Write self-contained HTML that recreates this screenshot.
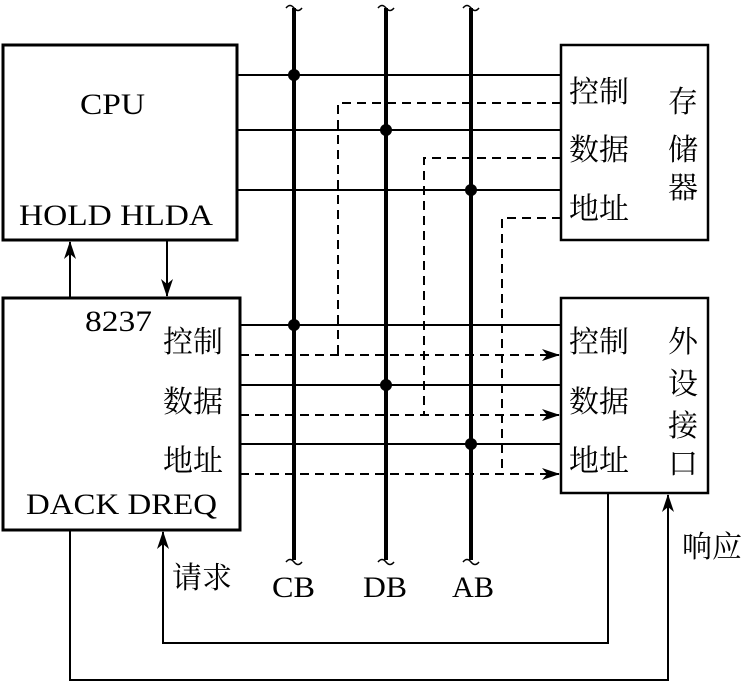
<!DOCTYPE html>
<html><head><meta charset="utf-8"><style>
body{margin:0;background:#fff}
svg text{font-family:"Liberation Serif","Noto Serif CJK SC",serif;fill:#000}
</style></head><body>
<svg width="744" height="684" viewBox="0 0 744 684" xmlns="http://www.w3.org/2000/svg">
<defs>
<marker id="a" markerWidth="18" markerHeight="12" refX="17" refY="6" orient="auto" markerUnits="userSpaceOnUse">
<path d="M0,0 L18,6 L0,12 L5,6 Z" fill="#000"/></marker>
</defs>
<g fill="none" stroke="#000">
<rect x="3" y="45" width="234" height="195" stroke-width="3"/>
<rect x="3" y="298" width="237" height="232" stroke-width="3"/>
<rect x="561" y="45" width="147" height="195" stroke-width="2.5"/>
<rect x="561" y="298" width="147" height="195" stroke-width="2.5"/>
<g stroke-width="4">
<line x1="294" y1="8" x2="294" y2="560"/>
<line x1="386" y1="8" x2="386" y2="560"/>
<line x1="471" y1="8" x2="471" y2="560"/>
</g>
<g stroke-width="1.5">
<path d="M286,8 q4,-5 8,0 t8,0"/><path d="M378,8 q4,-5 8,0 t8,0"/><path d="M463,8 q4,-5 8,0 t8,0"/>
<path d="M286,562 q4,-5 8,0 t8,0"/><path d="M378,562 q4,-5 8,0 t8,0"/><path d="M463,562 q4,-5 8,0 t8,0"/>
</g>
<g stroke-width="2">
<line x1="237" y1="75" x2="561" y2="75"/>
<line x1="237" y1="130" x2="561" y2="130"/>
<line x1="237" y1="190" x2="561" y2="190"/>
<line x1="240" y1="325" x2="561" y2="325"/>
<line x1="240" y1="385" x2="561" y2="385"/>
<line x1="240" y1="444" x2="561" y2="444"/>
</g>
<g stroke-width="2" stroke-dasharray="9,6">
<polyline points="561,103 338,103 338,355"/>
<polyline points="561,158 424,158 424,415"/>
<polyline points="561,218 502,218 502,474"/>
<line x1="240" y1="355" x2="559" y2="355" marker-end="url(#a)"/>
<line x1="240" y1="415" x2="559" y2="415" marker-end="url(#a)"/>
<line x1="240" y1="474" x2="559" y2="474" marker-end="url(#a)"/>
</g>
<g stroke-width="2">
<line x1="70" y1="298" x2="70" y2="242" marker-end="url(#a)"/>
<line x1="167" y1="240" x2="167" y2="296" marker-end="url(#a)"/>
<polyline points="70,530 70,680 668,680 668,495" marker-end="url(#a)"/>
<polyline points="608,493 608,643 163,643 163,532" marker-end="url(#a)"/>
</g>
</g>
<g fill="#000">
<circle cx="294" cy="75" r="6"/><circle cx="386" cy="130" r="6"/><circle cx="471" cy="190" r="6"/>
<circle cx="294" cy="325" r="6"/><circle cx="386" cy="385" r="6"/><circle cx="471" cy="444" r="6"/>
</g>
<g font-size="30">
<text x="80" y="114" textLength="65" lengthAdjust="spacingAndGlyphs">CPU</text>
<text x="19" y="225" textLength="194" lengthAdjust="spacingAndGlyphs">HOLD HLDA</text>
<text x="85" y="331" textLength="67" lengthAdjust="spacingAndGlyphs">8237</text>
<text x="26" y="514" textLength="191" lengthAdjust="spacingAndGlyphs">DACK DREQ</text>
<text x="272" y="597" textLength="43" lengthAdjust="spacingAndGlyphs">CB</text>
<text x="363" y="597" textLength="44" lengthAdjust="spacingAndGlyphs">DB</text>
<text x="452" y="597" textLength="42" lengthAdjust="spacingAndGlyphs">AB</text>
</g>
<g font-size="30" font-family="Noto Sans CJK SC">
<text x="569" y="102">控制</text>
<text x="569" y="160">数据</text>
<text x="569" y="219">地址</text>
<text x="668" y="112">存</text><text x="668" y="160">储</text><text x="668" y="198">器</text>
<text x="163" y="352">控制</text>
<text x="163" y="412">数据</text>
<text x="163" y="471">地址</text>
<text x="569" y="352">控制</text>
<text x="569" y="412">数据</text>
<text x="569" y="471">地址</text>
<text x="668" y="352">外</text><text x="668" y="394">设</text><text x="668" y="436">接</text><text x="668" y="474">口</text>
<text x="172" y="588">请求</text>
<text x="682" y="557">响应</text>
</g>
</svg>
</body></html>
